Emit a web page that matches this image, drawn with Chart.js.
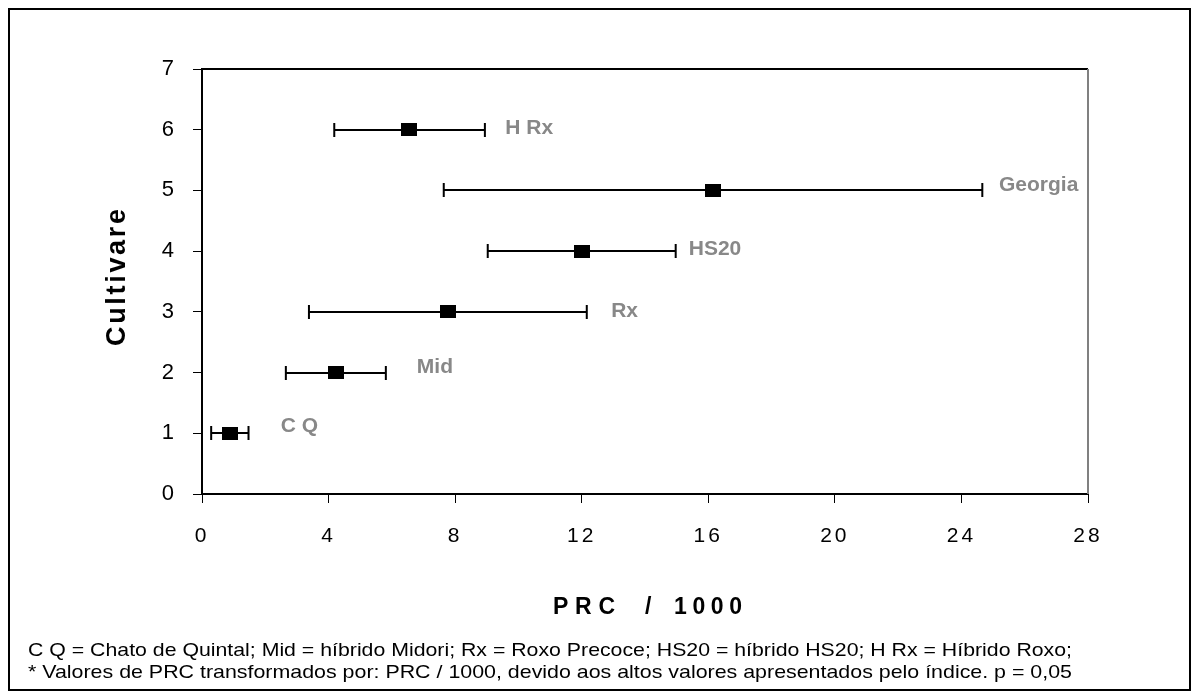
<!DOCTYPE html>
<html>
<head>
<meta charset="utf-8">
<script src="https://cdn.jsdelivr.net/npm/chart.js@4.4.1/dist/chart.umd.min.js"></script>
<style>
  html, body { margin: 0; padding: 0; background: #fff; }
  canvas { display: block; }
</style>
</head>
<body>
<canvas id="chart" width="1199" height="700"></canvas>
<script>
// data
const cultivars = ['C Q', 'Mid', 'Rx', 'HS20', 'Georgia', 'H Rx'];
const rows = [1, 2, 3, 4, 5, 6];
const means = [0.88, 4.23, 7.78, 12.0, 16.15, 6.55];
const lowEnds = [0.29, 2.65, 3.38, 9.03, 7.64, 4.18];
const highEnds = [1.47, 5.81, 12.16, 14.97, 24.66, 8.94];
const xTicks = [0, 4, 8, 12, 16, 20, 24, 28];
const yTicks = [0, 1, 2, 3, 4, 5, 6, 7];
const footnotes = [
  'C Q = Chato de Quintal; Mid = híbrido Midori; Rx = Roxo Precoce; HS20 = híbrido HS20; H Rx = Híbrido Roxo;',
  '* Valores de PRC transformados por: PRC / 1000, devido aos altos valores apresentados pelo índice. p = 0,05'
];

// label placement relative to the marker, in pixels (left edge, middle)
const labelShift = [[51, -7], [81, -5], [163, -1], [107, -2], [286, -5], [96, -2]];

const FONT = '"Liberation Sans", Arial, sans-serif';

// marker: small black box, a bit wider than tall
const marker = document.createElement('canvas');
marker.width = 16; marker.height = 13;
const mctx = marker.getContext('2d');
mctx.fillStyle = '#000';
mctx.fillRect(0, 0, 16, 13);

function spacedText(ctx, text, x, y, width) {
  // draws text starting at x, spreading letters over the given width
  const natural = ctx.measureText(text).width;
  const gap = text.length > 1 ? (width - natural) / (text.length - 1) : 0;
  let cx = x;
  for (const ch of text) {
    ctx.fillText(ch, cx, y);
    cx += ctx.measureText(ch).width + gap;
  }
}

const decor = {
  id: 'decor',
  beforeDraw(chart) {
    const ctx = chart.ctx;
    ctx.save();
    ctx.fillStyle = '#fff';
    ctx.fillRect(0, 0, chart.width, chart.height);
    ctx.strokeStyle = '#000';
    ctx.lineWidth = 2;
    ctx.strokeRect(9, 9, 1181, 681);
    ctx.restore();
    // excel spreads the tick digits a little
    ctx.letterSpacing = '3px';
  },
  beforeDatasetsDraw(chart) {
    const ctx = chart.ctx;
    ctx.letterSpacing = '0px';
    const xs = chart.scales.x, ys = chart.scales.y;
    ctx.save();
    ctx.strokeStyle = '#000';
    ctx.lineWidth = 2;
    rows.forEach((r, i) => {
      const y = Math.round(ys.getPixelForValue(r));
      const x0 = xs.getPixelForValue(lowEnds[i]);
      const x1 = xs.getPixelForValue(highEnds[i]);
      ctx.beginPath();
      ctx.moveTo(x0, y); ctx.lineTo(x1, y);
      ctx.moveTo(x0, y - 7); ctx.lineTo(x0, y + 7);
      ctx.moveTo(x1, y - 7); ctx.lineTo(x1, y + 7);
      ctx.stroke();
    });
    ctx.restore();
  },
  afterDatasetsDraw(chart) {
    const ctx = chart.ctx;
    const xs = chart.scales.x, ys = chart.scales.y;
    const a = chart.chartArea;
    ctx.save();
    // top and right edges of the plot frame
    ctx.lineWidth = 2;
    ctx.strokeStyle = '#000';
    ctx.beginPath();
    ctx.moveTo(a.left, a.top); ctx.lineTo(a.right, a.top);
    ctx.stroke();
    ctx.strokeStyle = '#808080';
    ctx.beginPath();
    ctx.moveTo(a.right, a.top); ctx.lineTo(a.right, a.bottom);
    ctx.stroke();

    // cultivar labels
    ctx.fillStyle = '#888888';
    ctx.font = 'bold 21px ' + FONT;
    ctx.textBaseline = 'middle';
    ctx.textAlign = 'left';
    cultivars.forEach((name, i) => {
      const x = xs.getPixelForValue(means[i]) + labelShift[i][0];
      const y = ys.getPixelForValue(rows[i]) + labelShift[i][1];
      ctx.fillText(name, x, y);
    });

    // axis titles
    ctx.fillStyle = '#000';
    ctx.font = 'bold 23px ' + FONT;
    ctx.textBaseline = 'middle';
    spacedText(ctx, 'PRC', 553, 608, 62);
    ctx.fillText('/', 645, 608);
    spacedText(ctx, '1000', 674, 608, 68);

    ctx.save();
    ctx.translate(118, 278);
    ctx.rotate(-Math.PI / 2);
    ctx.font = 'bold 27px ' + FONT;
    spacedText(ctx, 'Cultivare', -68, 0, 137);
    ctx.restore();

    // footnotes, stretched to the width they fill in the figure
    ctx.font = '19px ' + FONT;
    ctx.textBaseline = 'alphabetic';
    const baselines = [656, 678];
    footnotes.forEach((t, i) => {
      const w = ctx.measureText(t).width;
      ctx.save();
      ctx.translate(28, baselines[i]);
      ctx.scale(1044 / w, 1);
      ctx.fillText(t, 0, 0);
      ctx.restore();
    });
    ctx.restore();
  }
};

Chart.defaults.font.family = FONT;
Chart.defaults.color = '#000';

new Chart(document.getElementById('chart'), {
  type: 'scatter',
  data: {
    datasets: [{
      data: rows.map((r, i) => ({ x: means[i], y: r })),
      pointStyle: marker,
      pointRadius: 8,
      backgroundColor: '#000',
      borderColor: '#000'
    }]
  },
  options: {
    responsive: false,
    animation: false,
    devicePixelRatio: 1,
    layout: { padding: { top: 69, right: 111, bottom: 146, left: 0 } },
    plugins: {
      legend: { display: false },
      tooltip: { enabled: false }
    },
    scales: {
      x: {
        type: 'linear',
        min: 0, max: 28,
        afterBuildTicks: s => { s.ticks = xTicks.map(v => ({ value: v })); },
        afterFit: s => { s.height = 60; },
        ticks: { font: { size: 21 }, color: '#000', padding: 21 },
        grid: { drawOnChartArea: false, tickLength: 9, color: '#000' },
        border: { color: '#000', width: 2 }
      },
      y: {
        type: 'linear',
        min: 0, max: 7,
        afterBuildTicks: s => { s.ticks = yTicks.map(v => ({ value: v })); },
        afterFit: s => { s.width = 202; },
        ticks: { font: { size: 22 }, color: '#000', padding: 16 },
        grid: { drawOnChartArea: false, tickLength: 9, color: '#000' },
        border: { color: '#000', width: 2 }
      }
    }
  },
  plugins: [decor]
});
</script>
</body>
</html>
